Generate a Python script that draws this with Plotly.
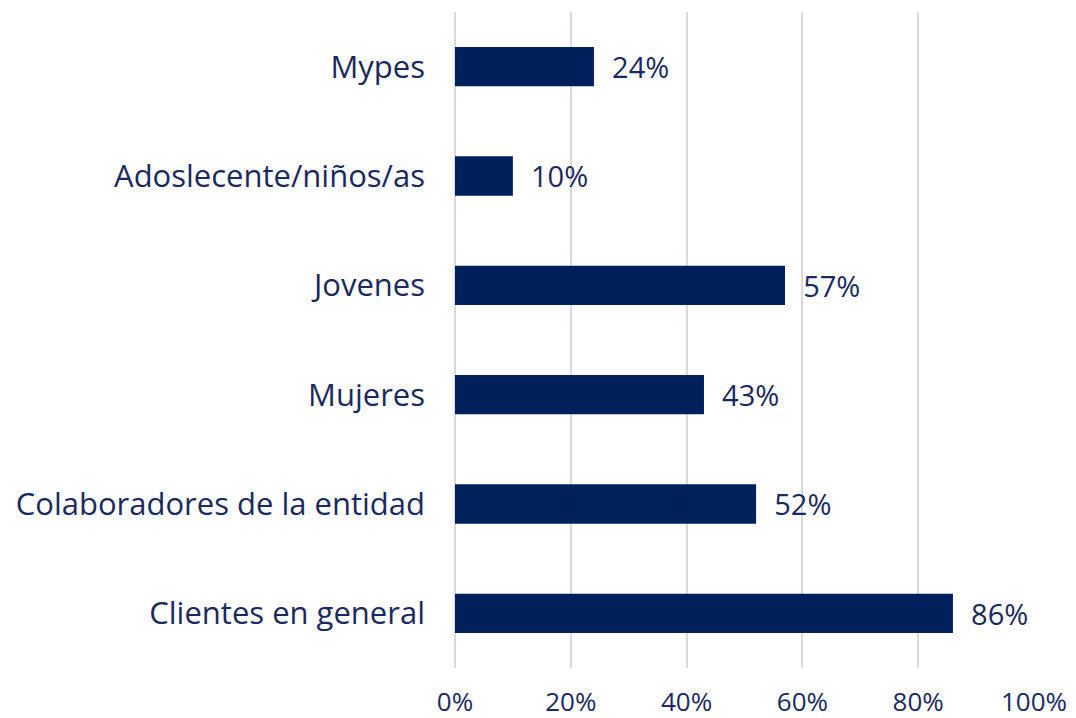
import plotly.graph_objects as go

CATEGORIES = ["Mypes", "Adoslecente/niños/as", "Jovenes", "Mujeres",
              "Colaboradores de la entidad", "Clientes en general"]
VALUES = [24, 10, 57, 43, 52, 86]
TICKS = [0, 20, 40, 60, 80, 100]

NAVY = "#00205b"
INK = "#1b2a5e"
FONT = "'Open Sans', sans-serif"

fig = go.Figure(go.Bar(
    x=VALUES, y=CATEGORIES, orientation="h",
    marker=dict(color=NAVY, line=dict(width=0)),
    text=[f"  {v}%" for v in VALUES], textposition="outside",
    textfont=dict(size=31, color=INK, family=FONT),
    cliponaxis=False, width=0.36,
))

# page body adds 8px, so the figure is shifted; margins compensate
fig.update_layout(
    width=1068, height=710,
    margin=dict(l=447, r=42, t=4, b=50),
    paper_bgcolor="white", plot_bgcolor="white",
    font=dict(family=FONT, color=INK),
    showlegend=False,
)
fig.update_xaxes(
    range=[0, 100], tickvals=TICKS, ticktext=[f"{t}%" for t in TICKS],
    showgrid=True, gridcolor="#d9d9d9", gridwidth=2,
    zeroline=True, zerolinecolor="#d9d9d9", zerolinewidth=2,
    showline=False, tickfont=dict(size=26, color=INK, family=FONT),
    ticklabelstandoff=16, automargin=False,
)
fig.update_yaxes(
    autorange="reversed", showgrid=False, showline=False, zeroline=False,
    tickfont=dict(size=31, color=INK, family=FONT), ticklabelstandoff=29,
    automargin=False,
)

fig.write_html("out.html")
